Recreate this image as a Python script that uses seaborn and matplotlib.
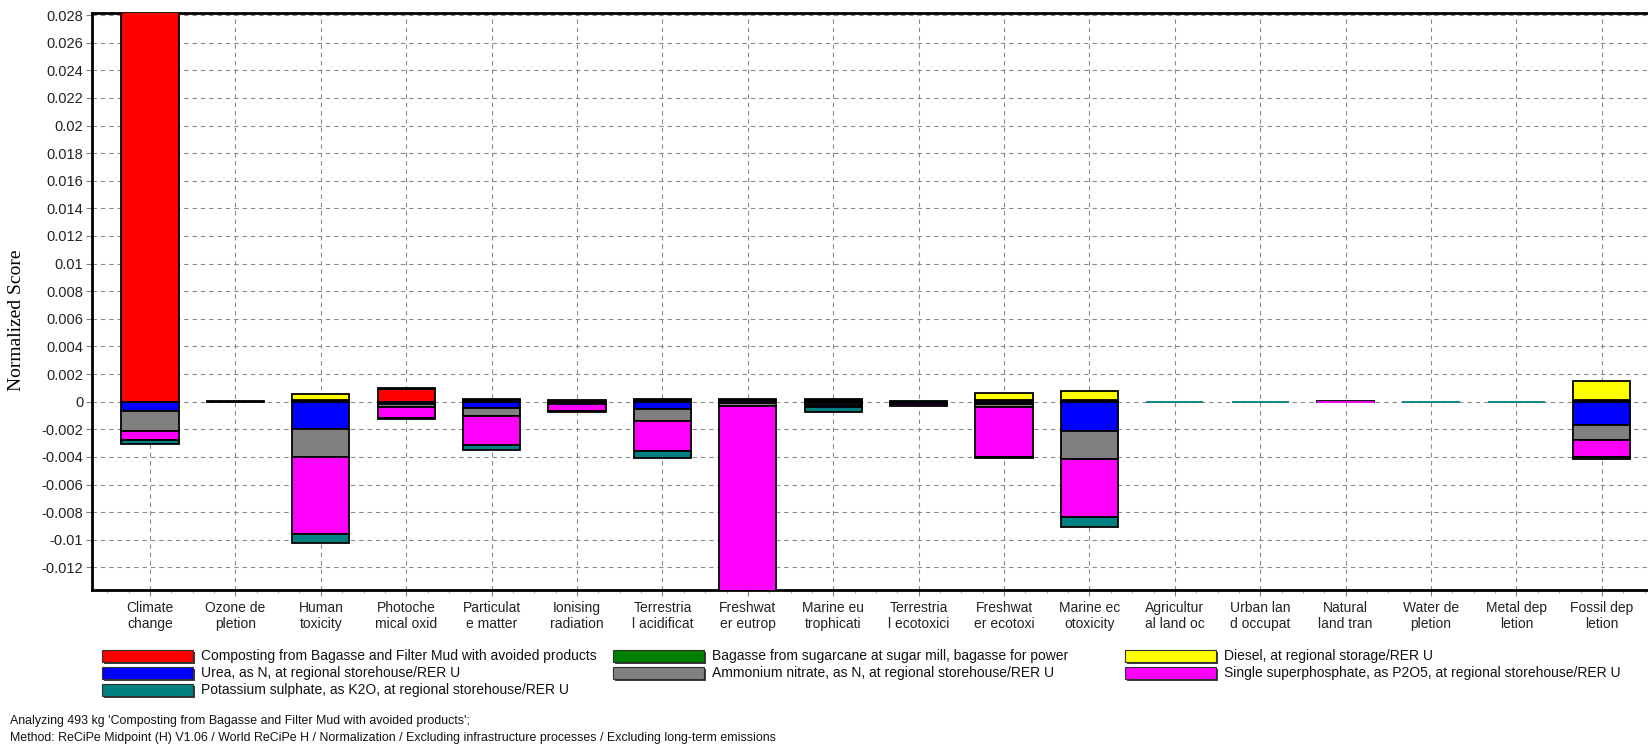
import numpy as np
import pandas as pd
import matplotlib
matplotlib.use("Agg")
import matplotlib.pyplot as plt
import seaborn as sns
from matplotlib.patches import Rectangle

# ---------------- data ----------------
categories = ["Climate\nchange", "Ozone de\npletion", "Human\ntoxicity", "Photoche\nmical oxid",
              "Particulat\ne matter", "Ionising\nradiation", "Terrestria\nl acidificat", "Freshwat\ner eutrop",
              "Marine eu\ntrophicati", "Terrestria\nl ecotoxici", "Freshwat\ner ecotoxi", "Marine ec\notoxicity",
              "Agricultur\nal land oc", "Urban lan\nd occupat", "Natural\nland tran", "Water de\npletion",
              "Metal dep\nletion", "Fossil dep\nletion"]

series_names = ["Composting from Bagasse and Filter Mud with avoided products",
                "Bagasse from sugarcane at sugar mill, bagasse for power",
                "Diesel, at regional storage/RER U",
                "Urea, as N, at regional storehouse/RER U",
                "Ammonium nitrate, as N, at regional storehouse/RER U",
                "Single superphosphate, as P2O5, at regional storehouse/RER U",
                "Potassium sulphate, as K2O, at regional storehouse/RER U"]
series_colors = ["#ff0000", "#008000", "#ffff00", "#0000ff", "#808080", "#ff00ff", "#008080"]

composting = [0.0282, 0.00007, 0.00012, 0.00095, 0.0001, 0.0001, 0.0001, 0.0001, 0.0001,
              0.00003, 0.00012, 0.00015, 0.0, 0.0, 0.00005, 0.0, 0.0, 0.0001]
bagasse = [0.0] * 18
diesel = [0.0, 0.0, 0.0004, 0.00005, 0.00012, 0.0, 0.00012, 0.00006, 0.00006,
          0.0, 0.00048, 0.00063, 0.0, 0.0, 0.0, 0.0, 0.0, 0.0014]
urea = [-0.00068, 0.0, -0.0020, -0.0002, -0.00044, -0.0001, -0.00055, -0.0001, -0.00012,
        -0.0001, -0.0002, -0.0021, 0.0, 0.0, 0.0, 0.0, 0.0, -0.0017]
ammonium = [-0.00145, 0.0, -0.0020, -0.00016, -0.0006, -0.00005, -0.00085, -0.0002, -0.0001,
            -0.0001, -0.0002, -0.00205, 0.0, 0.0, 0.0, 0.0, 0.0, -0.0011]
superphosphate = [-0.00066, 0.0, -0.0056, -0.0008, -0.0021, -0.0005, -0.0022, -0.0134, -0.0002,
                  -0.0001, -0.0036, -0.0042, 0.0, 0.0, -0.00002, 0.0, 0.0, -0.0012]
potassium = [-0.0003, 0.0, -0.0006, -0.00012, -0.00033, -0.00007, -0.00045, 0.0, -0.0003,
             0.0, -0.00005, -0.0007, -0.00002, -0.00002, 0.0, -0.00002, -0.00002, -0.00015]

ytick_values = [-0.012, -0.01, -0.008, -0.006, -0.004, -0.002, 0, 0.002, 0.004, 0.006, 0.008,
                0.01, 0.012, 0.014, 0.016, 0.018, 0.02, 0.022, 0.024, 0.026, 0.028]
ylabel = "Normalized Score"
footer_lines = ["Analyzing 493 kg 'Composting from Bagasse and Filter Mud with avoided products';",
                "Method: ReCiPe Midpoint (H) V1.06 / World ReCiPe H / Normalization / Excluding infrastructure processes / Excluding long-term emissions"]

series_values = [composting, bagasse, diesel, urea, ammonium, superphosphate, potassium]

# ---------------- style ----------------
sns.set_theme(style="white")
plt.rcParams['font.family'] = ['Liberation Sans', 'DejaVu Sans']

W, H = 1648, 751
fig = plt.figure(figsize=(W / 100, H / 100), dpi=100)
fig.patch.set_facecolor("white")
ax_l, ax_b, ax_t = 91.7, 590.0, 12.7
ax = fig.add_axes([ax_l / W, 1 - ax_b / H, 1 - ax_l / W, (ax_b - ax_t) / H])
ax.set_facecolor("white")

n = len(categories)
pos_base = np.zeros(n)
neg_base = np.zeros(n)
for name, vals, col in zip(series_names, series_values, series_colors):
    v = np.asarray(vals, dtype=float)
    bottom = np.where(v >= 0, pos_base, neg_base)
    df = pd.DataFrame({"category": categories, "value": v})
    sns.barplot(data=df, x="category", y="value", order=categories, color=col, saturation=1,
                width=0.67, bottom=bottom, edgecolor="black", linewidth=1.3,
                errorbar=None, ax=ax, zorder=3)
    cont = ax.containers[-1]
    for bar, h in zip(cont, v):
        if h == 0:
            bar.set_visible(False)
        elif abs(h) < 3e-5:
            bar.set_edgecolor(col)
    pos_base += np.where(v > 0, v, 0)
    neg_base += np.where(v < 0, v, 0)

ax.set_xlim(-0.683, 17.54)
ax.set_ylim(-0.01364, 0.02817)
ax.set_xlabel("")
ax.set_ylabel("")

ax.set_yticks(ytick_values)
ax.set_yticklabels([("%.3f" % t).rstrip("0").rstrip(".") if t != 0 else "0" for t in ytick_values])
ax.set_xticks(range(n))
ax.set_xticklabels(categories, linespacing=1.15)
ax.set_xticks(np.arange(-0.5, 17.6, 0.25), minor=True)

ax.grid(True, which="major", color="#8a8a8a", linestyle=(0, (4, 3.5)), linewidth=0.8, zorder=0)
ax.set_axisbelow(True)

for s in ["left", "bottom", "top"]:
    ax.spines[s].set_visible(True)
    ax.spines[s].set_color("black")
    ax.spines[s].set_linewidth(2)
ax.spines["right"].set_visible(False)

ax.tick_params(axis="y", which="major", direction="out", length=4, width=0.8, color="#808080",
               labelsize=10.5, pad=2, labelcolor="#222222", left=True)
ax.tick_params(axis="x", which="major", direction="out", length=4, width=0.8, color="#808080",
               labelsize=10, pad=4, labelcolor="#222222", bottom=True)
ax.tick_params(axis="x", which="minor", direction="out", length=2.5, width=0.6, color="#9a9a9a", bottom=True)

fig.text(17 / W, 1 - 320 / H, ylabel, rotation=90, ha="center", va="center",
         family=["Liberation Serif", "DejaVu Serif"], fontsize=14, color="black")

# ---------------- legend (3 fixed-width columns, row-major) ----------------
col_x = [102, 613, 1125]
row_y = [656, 673, 690]
patch_w, patch_h = 91, 12
for i, (name, col) in enumerate(zip(series_names, series_colors)):
    r, c = divmod(i, 3)
    x0 = col_x[c]
    yc = row_y[r]
    fig.patches.append(Rectangle(((x0 + 2) / W, 1 - (yc + patch_h / 2 + 2) / H), patch_w / W, patch_h / H,
                                 transform=fig.transFigure, facecolor="#404040", edgecolor="none", zorder=1))
    fig.patches.append(Rectangle((x0 / W, 1 - (yc + patch_h / 2) / H), patch_w / W, patch_h / H,
                                 transform=fig.transFigure, facecolor=col, edgecolor="#303030",
                                 linewidth=0.8, zorder=2))
    fig.text((x0 + patch_w + 8) / W, 1 - yc / H, name, ha="left", va="center", fontsize=10, color="#111111")

for k, line in enumerate(footer_lines):
    fig.text(10 / W, 1 - (721 + 17 * k) / H, line, ha="left", va="center", fontsize=8.9, color="#111111")

fig.savefig("out.png", dpi=100, facecolor="white")
